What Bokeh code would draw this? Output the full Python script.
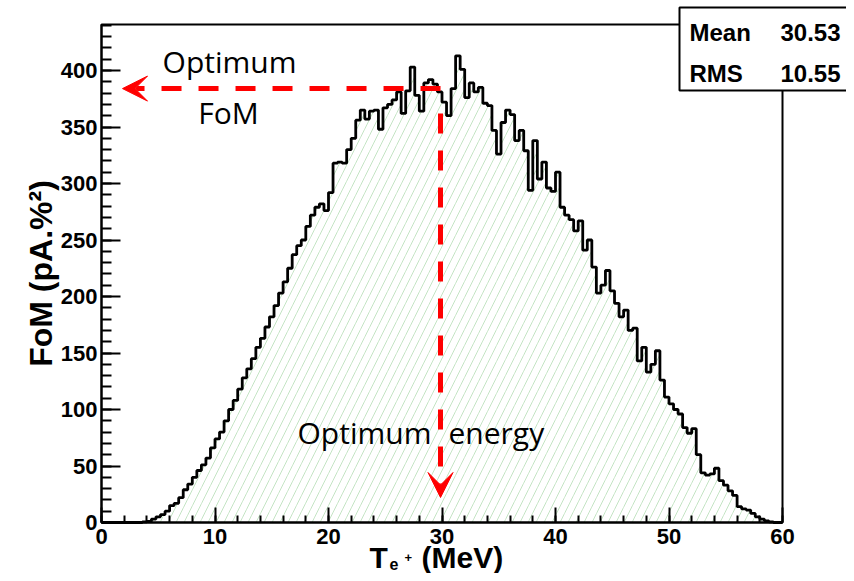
import math
import numpy as np
from bokeh.plotting import figure
from bokeh.models import Range1d, SingleIntervalTicker, Label, BoxAnnotation, Arrow, VeeHead
from bokeh.embed import file_html
from bokeh.resources import INLINE

# ---- data (FoM per 0.4 MeV bin, 0..60 MeV) ----
fom = [0, 0, 0, 0, 0, 0, 0, 0, 0, 0.5,
       1, 3, 5, 7, 10, 15, 17, 22, 29, 34,
       40, 46, 51, 57, 66, 74, 80, 90, 100, 108,
       118, 128, 136, 145, 155, 163, 173, 182, 192, 203,
       213, 225, 237, 245, 250, 262, 272, 279, 282, 276,
       292, 318, 319, 318, 330, 340, 356, 365, 357, 364,
       365, 348, 367, 370, 374, 381, 362, 382, 403, 378,
       364, 389, 392, 388, 381, 372, 360, 384, 413, 401,
       376, 389, 381, 385, 371, 369, 347, 326, 354, 365,
       361, 338, 347, 329, 294, 338, 304, 319, 296, 293,
       310, 279, 272, 268, 258, 267, 241, 250, 226, 203,
       210, 223, 205, 194, 182, 188, 170, 172, 143, 155,
       133, 140, 152, 126, 111, 105, 100, 96, 84, 79,
       83, 60, 44, 42, 43, 48, 37, 33, 28, 24,
       14, 12, 11, 8, 5, 3, 1.5, 0.5, 0, 0]
x_min, x_max = 0, 60
y_top = 440.7
stats_names = ["Mean", "RMS"]
stats_values = ["30.53", "10.55"]
opt_energy = 29.87
opt_fom = 384

edges = np.linspace(x_min, x_max, len(fom) + 1)

# ---- layout: frame covers whole canvas, axes fixed at 0 ----
W, H = 846, 573
PX0, PX60, PY0, PY400 = 101, 782, 522, 70
sx = (PX60 - PX0) / 60.0
sy = (PY0 - PY400) / 400.0
def dx(px): return (px - PX0) / sx
def dy(py): return (PY0 - py) / sy

p = figure(width=W, height=H, output_backend="svg", toolbar_location=None,
           x_range=Range1d(dx(0), dx(W)), y_range=Range1d(dy(H), dy(0)),
           min_border_left=0, min_border_right=0, min_border_top=0, min_border_bottom=0)
p.title.visible = False
p.grid.visible = False
p.background_fill_color = "white"
p.border_fill_color = "white"
p.outline_line_color = None

# hatched fill
p.quad(left=edges[:-1], right=edges[1:], bottom=0, top=fom,
       fill_alpha=0, line_alpha=0,
       hatch_pattern="/", hatch_color="#c4e4c4", hatch_scale=16, hatch_weight=1)
# frame box
p.quad(left=x_min, right=x_max, bottom=0, top=y_top, fill_alpha=0,
       line_color="black", line_width=2)
# outline
p.step(x=list(edges), y=list(fom) + [fom[-1]], mode="after", line_color="black", line_width=2.8)

# axes
font = "Liberation Sans"
p.xaxis.ticker = SingleIntervalTicker(interval=10, num_minor_ticks=5)
p.yaxis.ticker = SingleIntervalTicker(interval=50, num_minor_ticks=5)
p.xaxis.bounds = (x_min, x_max)
p.yaxis.bounds = (0, y_top)
p.xaxis.fixed_location = 0
p.yaxis.fixed_location = 0
for ax in (p.xaxis[0], p.yaxis[0]):
    ax.axis_line_color = "black"
    ax.axis_line_width = 2
    ax.major_tick_line_color = "black"
    ax.minor_tick_line_color = "black"
    ax.major_tick_line_width = 2
    ax.minor_tick_line_width = 2
    ax.major_tick_out = 0
    ax.minor_tick_out = 0
    ax.major_label_text_font = font
    ax.major_label_text_font_style = "bold"
    ax.major_label_text_font_size = "22px"
    ax.major_label_text_color = "black"
p.xaxis.major_tick_in = 15
p.xaxis.minor_tick_in = 7
p.yaxis.major_tick_in = 19
p.yaxis.minor_tick_in = 10
p.xaxis.major_label_standoff = 6
p.yaxis.major_label_standoff = 4

def lab(px, py, text, size, align="left", style="bold", fnt=font, baseline="alphabetic", angle=0):
    s = float(size.replace("px", ""))
    if baseline == "alphabetic":
        py = py - 0.35 * s  # compensate for renderer baseline offset
    p.add_layout(Label(x=dx(px), y=dy(py), text=text, text_font=fnt, text_font_style=style,
                       text_font_size=size, text_align=align, text_baseline=baseline,
                       text_color="black", angle=angle))

# axis titles
lab(40, 273, "FoM (pA.%²)", "32px", align="center", baseline="middle", angle=math.pi / 2)
lab(369, 567, "T", "30px")
lab(389, 569, "e", "16px")
lab(404, 562, "+", "13px")
lab(421, 567, "(MeV)", "30px")

# arrows
red = "#ff0000"
p.add_layout(Arrow(x_start=opt_energy, y_start=opt_fom, x_end=dx(122), y_end=opt_fom,
                   line_color=red, line_width=5, line_dash="20 17",
                   end=VeeHead(size=25, fill_color=red, line_color=red)))
p.add_layout(Arrow(x_start=opt_energy, y_start=dy(113), x_end=opt_energy, y_end=dy(497),
                   line_color=red, line_width=5, line_dash="20 17",
                   end=VeeHead(size=25, fill_color=red, line_color=red)))

comic = "Open Sans"
lab(229, 71, "Optimum", "30px", align="center", style="normal", fnt=comic)
lab(228, 122, "FoM", "30px", align="center", style="normal", fnt=comic)
lab(297, 442, "Optimum", "30px", style="normal", fnt=comic)
lab(448, 442, "energy", "30px", style="normal", fnt=comic)

# stats box
p.add_layout(BoxAnnotation(left=dx(679), right=dx(849), bottom=dy(90), top=dy(7),
                           fill_color="white", fill_alpha=1.0,
                           line_color="black", line_width=2, line_alpha=1.0))
lab(689, 40, stats_names[0], "24px")
lab(689, 81, stats_names[1], "24px")
lab(840, 40, stats_values[0], "24px", align="right")
lab(840, 81, stats_values[1], "24px", align="right")

open("out.html", "w").write(file_html(p, INLINE))
